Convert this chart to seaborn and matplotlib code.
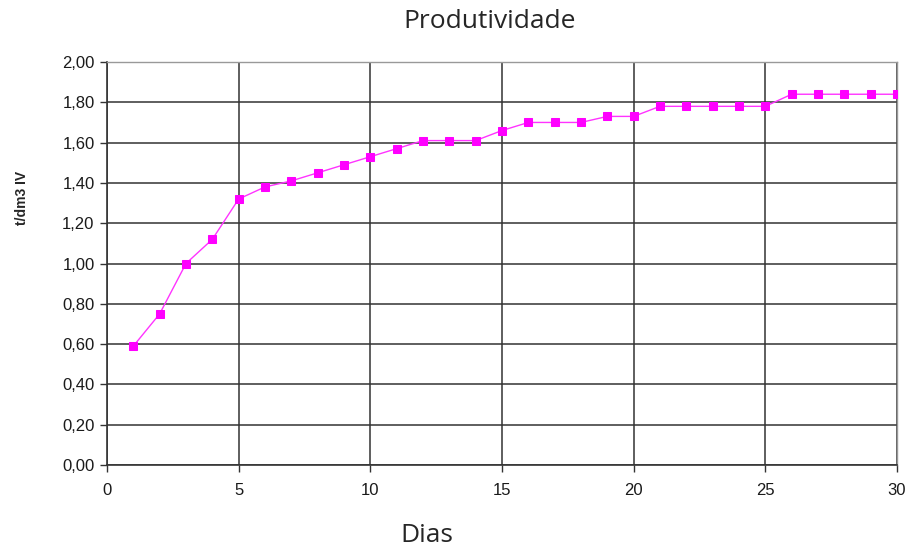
import pandas as pd
import numpy as np
import matplotlib
matplotlib.use('Agg')
import matplotlib.pyplot as plt
from matplotlib.ticker import FuncFormatter, MultipleLocator
import seaborn as sns

# values
dias = list(range(1, 31))
produtividade = [0.59, 0.75, 1.00, 1.12, 1.32, 1.38, 1.41, 1.45, 1.49, 1.53,
                 1.57, 1.61, 1.61, 1.61, 1.66, 1.70, 1.70, 1.70, 1.73, 1.73,
                 1.78, 1.78, 1.78, 1.78, 1.78, 1.84, 1.84, 1.84, 1.84, 1.84]

df = pd.DataFrame({'dia': dias, 'valor': produtividade})

sns.set_theme(style='white')
plt.rcParams['font.family'] = ['Liberation Sans', 'DejaVu Sans']

fig = plt.figure(figsize=(9.08, 5.47), dpi=100)
ax = fig.add_axes([107/908, 1-465/547, 790/908, 403/547])

sns.lineplot(x='dia', y='valor', data=df, ax=ax, color='#FF33FF', linewidth=1,
             marker='s', markersize=6, markerfacecolor='#FF00FF',
             markeredgecolor='#FF00FF', zorder=3)

ax.set(xlim=(0, 30), ylim=(0, 2.0), xlabel='', ylabel='')
ax.xaxis.set_major_locator(MultipleLocator(5))
ax.yaxis.set_major_locator(MultipleLocator(0.2))
ax.yaxis.set_major_formatter(FuncFormatter(lambda v, p: f'{v:.2f}'.replace('.', ',')))

ax.grid(True, color='#333333', linewidth=1.1)
ax.set_axisbelow(True)
for side in ['top', 'right']:
  ax.spines[side].set_color('#999999')
  ax.spines[side].set_linewidth(1)
for side in ['left', 'bottom']:
  ax.spines[side].set_color('#333333')
  ax.spines[side].set_linewidth(1.2)

ax.tick_params(axis='y', direction='out', length=5, width=1, color='#333333',
               labelsize=12, pad=4, left=True)
ax.tick_params(axis='x', direction='out', length=5, width=1, color='#333333',
               labelsize=12, pad=8, bottom=True)
for lbl in ax.get_yticklabels() + ax.get_xticklabels():
  lbl.set_color('#1a1a1a')

fig.text(490/908, 1-22/547, 'Produtividade', ha='center', va='center',
         fontsize=19, family=['Open Sans', 'DejaVu Sans'])
fig.text(427/908, 1-535/547, 'Dias', ha='center', va='center',
         fontsize=19, family=['Open Sans', 'DejaVu Sans'])
fig.text(22/908, 1-198/547, 't/dm3 IV', ha='center', va='center',
         rotation=90, fontsize=10, fontweight='bold')

fig.savefig('out.png', dpi=100, facecolor='white')
